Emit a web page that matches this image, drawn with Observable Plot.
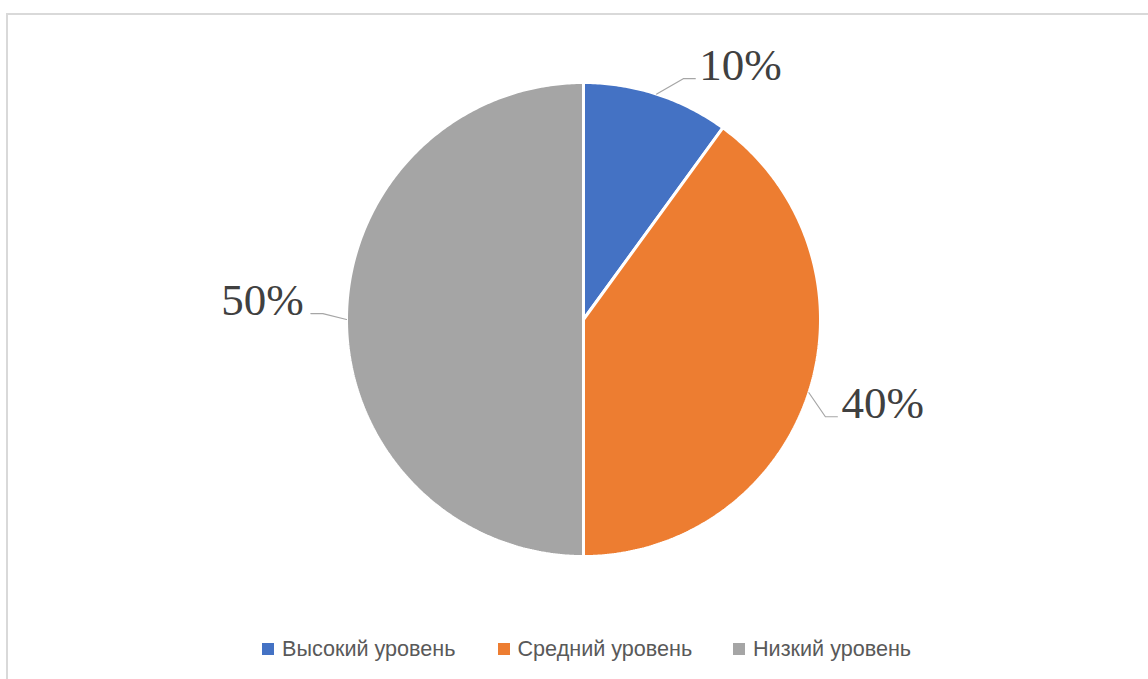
<!DOCTYPE html>
<html><head><meta charset="utf-8">
<script src="https://cdn.jsdelivr.net/npm/d3@7"></script>
<script src="https://cdn.jsdelivr.net/npm/@observablehq/plot@0.6"></script>
<style>
html,body{margin:0;padding:0;background:#fff;width:1148px;height:679px;overflow:hidden;}
#frame{position:absolute;left:6px;top:13px;width:1200px;height:720px;border-left:2px solid #d9d9d9;border-top:2px solid #d9d9d9;box-sizing:border-box;}
#chart{position:absolute;left:0;top:0;}
#legend{position:absolute;left:262px;top:637px;}
#legend .lg-swatches{font-family:"Liberation Sans",Arial,sans-serif !important;font-size:21.6px !important;color:#595959 !important;margin:0 !important;line-height:24px !important;}
#legend .lg-swatches-wrap{min-height:24px !important;flex-wrap:nowrap !important;}
#legend .lg-swatch{width:235.5px !important;margin-right:0 !important;white-space:nowrap;}
#legend .lg-swatch > svg{margin-right:8px !important;}
</style></head><body>
<div id="frame"></div><div id="chart"></div><div id="legend"></div>
<script>
// ---- data ----
const categories = ["Высокий уровень", "Средний уровень", "Низкий уровень"];
const shares = [10, 40, 50];
const labels = ["10%", "40%", "50%"];
const colors = ["#4472C4", "#ED7D31", "#A5A5A5"];

// ---- layout (not data) ----
const W = 1148, H = 620, cx = 583, cy = 319, R = 237;
const labelShiftDeg = [4.5, 3.9, 1.3];
const elbowR = 1.1, tailPx = 12;
const labelSize = 45;

const data = categories.map((c, i) => ({cat: c, value: shares[i], label: labels[i], i}));
const arcs = d3.pie().sort(null).value(d => d.value)(data);

const slicePts = [];
arcs.forEach(a => {
  const c = a.data.cat;
  slicePts.push({cat: c, x: 0, y: 0});
  const n = Math.max(2, Math.ceil((a.endAngle - a.startAngle) / 0.01));
  for (let k = 0; k <= n; k++) {
    const t = a.startAngle + (a.endAngle - a.startAngle) * k / n;
    slicePts.push({cat: c, x: Math.sin(t), y: Math.cos(t)});
  }
  slicePts.push({cat: c, x: 0, y: 0});
});

const leaderPts = [];
const labelPts = [];
arcs.forEach(a => {
  const mid = (a.startAngle + a.endAngle) / 2;
  const i = a.data.i;
  const sh = mid + labelShiftDeg[i] * Math.PI / 180;
  const right = Math.sin(mid) >= 0;
  const ex = elbowR * Math.sin(sh), ey = elbowR * Math.cos(sh);
  const tx = ex + (right ? 1 : -1) * tailPx / R;
  leaderPts.push({cat: a.data.cat, x: Math.sin(mid), y: Math.cos(mid)});
  leaderPts.push({cat: a.data.cat, x: ex, y: ey});
  leaderPts.push({cat: a.data.cat, x: tx, y: ey});
  labelPts.push({label: a.data.label, x: tx, y: ey, right});
});

const dyLab = -Math.round(0.32 * labelSize) + 1;
const chart = Plot.plot({
  width: W, height: H,
  marginLeft: 0, marginRight: 0, marginTop: 0, marginBottom: 0,
  x: {domain: [-cx / R, (W - cx) / R], range: [0, W], axis: null},
  y: {domain: [-(H - cy) / R, cy / R], range: [H, 0], axis: null},
  color: {domain: categories, range: colors},
  style: {background: "transparent", overflow: "visible"},
  marks: [
    Plot.line(slicePts, {x: "x", y: "y", z: "cat", fill: "cat", stroke: "white", strokeWidth: 3, strokeLinejoin: "miter", curve: "linear"}),
    Plot.line(leaderPts, {x: "x", y: "y", z: "cat", stroke: "#a6a6a6", strokeWidth: 1.2, curve: "linear"}),
    Plot.text(labelPts.filter(d => d.right), {x: "x", y: "y", text: "label", textAnchor: "start", dx: 4, dy: dyLab, fontSize: labelSize, fontFamily: "Liberation Serif, Times New Roman, serif", fill: "#404040"}),
    Plot.text(labelPts.filter(d => !d.right), {x: "x", y: "y", text: "label", textAnchor: "end", dx: -7, dy: dyLab, fontSize: labelSize, fontFamily: "Liberation Serif, Times New Roman, serif", fill: "#404040"})
  ]
});
document.getElementById("chart").appendChild(chart);

const legend = Plot.legend({
  legend: "swatches",
  color: {type: "ordinal", domain: categories, range: colors},
  swatchSize: 12,
  className: "lg"
});
document.getElementById("legend").appendChild(legend);
</script>
</body></html>
